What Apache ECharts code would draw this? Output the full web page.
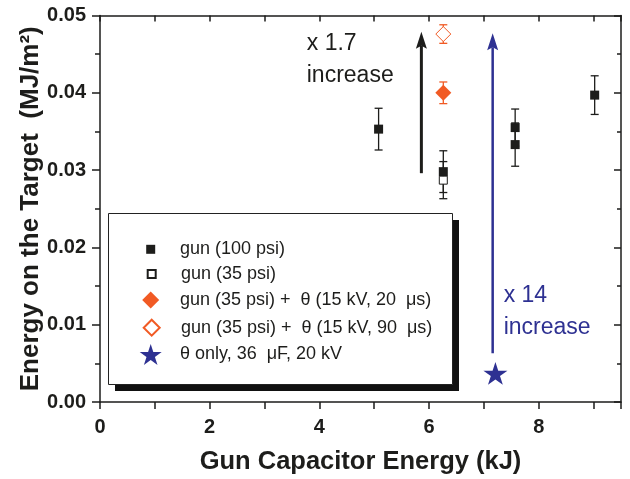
<!DOCTYPE html>
<html>
<head>
<meta charset="utf-8">
<script src="https://cdn.jsdelivr.net/npm/echarts@6/dist/echarts.min.js"></script>
<style>
  html, body { margin: 0; padding: 0; background: #fff; }
  #chart { width: 630px; height: 479px; }
</style>
</head>
<body>
<div id="chart"></div>
<script>
// gun only, 100 psi
const gun100X = [5.08, 6.26, 7.57, 7.57, 9.02];
const gun100Y = [0.0353, 0.0298, 0.0355, 0.0333, 0.0397];
const gun100Err = [0.0027, 0.0027, 0.0024, 0.0028, 0.0025];
// gun only, 35 psi
const gun35X = [6.26];
const gun35Y = [0.0287];
const gun35Err = [0.0024];
// gun (35 psi) + theta pinch
const theta20X = [6.26];
const theta20Y = [0.0400];
const theta20Err = [0.0014];
const theta90X = [6.26];
const theta90Y = [0.0476];
const theta90Err = [0.0012];
// theta pinch alone
const thetaOnlyX = [7.21];
const thetaOnlyY = [0.0037];

// arrows + notes
const arrowX = [5.86, 7.16];
const arrowFrom = [0.0296, 0.0063];
const arrowTo = [0.0479, 0.0477];
const noteX = [3.77, 7.36];
const noteY = [0.0443, 0.0117];
const noteText = ['x 1.7\nincrease', 'x 14\nincrease'];

const names = [
  'gun (100 psi)',
  'gun (35 psi)',
  'gun (35 psi) +  \u03b8 (15 kV, 20  \u03bcs)',
  'gun (35 psi) +  \u03b8 (15 kV, 90  \u03bcs)',
  '\u03b8 only, 36  \u03bcF, 20 kV'
];

const xRange = [0, 9.5];
const xStep = 2;
const yRange = [0, 0.05];
const yStep = 0.01;

const FONT = 'Liberation Sans';
const BLACK = '#1d1d1b';
const ORANGE = '#f15a24';
const BLUE = '#2e3192';

function zip(xs, ys) { return xs.map((x, i) => [x, ys[i]]); }

function starPath() {
  let d = '';
  for (let i = 0; i < 10; i++) {
    const r = i % 2 ? 0.382 : 1;
    const a = Math.PI / 2 + i * Math.PI / 5;
    d += (i ? 'L' : 'M') + (r * Math.cos(a)).toFixed(3) + ',' + (-r * Math.sin(a)).toFixed(3);
  }
  return 'path://' + d + 'Z';
}
const STAR = starPath();

function errorBars(xs, ys, es, color) {
  return {
    type: 'custom', silent: true, z: 2,
    encode: { x: 0, y: 1 },
    data: xs.map((x, i) => [x, ys[i], es[i]]),
    renderItem: (params, api) => {
      const x = api.value(0), y = api.value(1), e = api.value(2);
      const hi = api.coord([x, y + e]);
      const lo = api.coord([x, y - e]);
      const w = 4;
      const st = { stroke: color, lineWidth: 1.3 };
      return {
        type: 'group', children: [
          { type: 'line', shape: { x1: hi[0], y1: hi[1], x2: lo[0], y2: lo[1] }, style: st },
          { type: 'line', shape: { x1: hi[0] - w, y1: hi[1], x2: hi[0] + w, y2: hi[1] }, style: st },
          { type: 'line', shape: { x1: lo[0] - w, y1: lo[1], x2: lo[0] + w, y2: lo[1] }, style: st }
        ]
      };
    }
  };
}

function arrow(i, color, width) {
  return {
    type: 'custom', silent: true, z: 3,
    encode: { x: 0, y: 1 },
    data: [[arrowX[i], arrowFrom[i], arrowTo[i]]],
    renderItem: (params, api) => {
      const a = api.coord([api.value(0), api.value(1)]);
      const b = api.coord([api.value(0), api.value(2)]);
      const hw = 5.5, hl = 17;
      return {
        type: 'group', children: [
          { type: 'line', shape: { x1: a[0], y1: a[1], x2: b[0], y2: b[1] + hl - 3 },
            style: { stroke: color, lineWidth: width } },
          { type: 'polygon',
            shape: { points: [[b[0], b[1]], [b[0] - hw, b[1] + hl], [b[0], b[1] + hl - 3], [b[0] + hw, b[1] + hl]] },
            style: { fill: color } }
        ]
      };
    }
  };
}

function note(i, color) {
  return {
    type: 'custom', silent: true, z: 3,
    encode: { x: 0, y: 1 },
    data: [[noteX[i], noteY[i]]],
    renderItem: (params, api) => {
      const c = api.coord([api.value(0), api.value(1)]);
      return {
        type: 'text', x: c[0], y: c[1],
        style: {
          text: noteText[i], fill: color, fontSize: 23, fontFamily: FONT,
          align: 'left', verticalAlign: 'middle', lineHeight: 31.5
        }
      };
    }
  };
}

// legend rows: one legend per entry so every icon keeps its own size
const legendRows = [249.3, 274, 300, 327.7, 355];
const legendSizes = [9, 8, 17, 16, 22];
const legends = names.map((n, i) => {
  const s = legendSizes[i];
  return {
    data: [n], selectedMode: false, padding: 0,
    left: 150.7 - s / 2,
    top: legendRows[i] - Math.max(s, 18) / 2,
    itemWidth: s, itemHeight: s,
    textStyle: { fontSize: 18, fontFamily: FONT, color: BLACK, padding: [0, 0, 0, 180 - (150.7 + s / 2 + 5)] }
  };
});

const axisLabelStyle = { fontSize: 20, fontWeight: 'bold', fontFamily: FONT, color: BLACK };
const lineStyle = { color: BLACK, width: 1.5 };

const option = {
  animation: false,
  grid: { left: 100, right: 9, top: 15.5, bottom: 77, containLabel: false, outerBoundsMode: 'none' },
  legend: legends,
  graphic: [
    { type: 'rect', left: 115, top: 220, z: 2, shape: { width: 344, height: 171 }, style: { fill: '#111' } },
    { type: 'rect', left: 108, top: 213, z: 3, shape: { width: 344, height: 171 },
      style: { fill: '#fff', stroke: '#222', lineWidth: 1 } }
  ],
  xAxis: [
    {
      type: 'value', position: 'bottom', min: xRange[0], max: xRange[1], interval: xStep,
      axisLine: { show: true, onZero: false, lineStyle },
      axisTick: { show: true, inside: false, length: 7, lineStyle },
      minorTick: { show: true, splitNumber: 2, length: 7, lineStyle },
      splitLine: { show: false },
      axisLabel: Object.assign({ margin: 15, showMaxLabel: false }, axisLabelStyle),
      name: 'Gun Capacitor Energy (kJ)', nameLocation: 'middle', nameGap: 47, nameMoveOverlap: false,
      nameTextStyle: { fontSize: 25.5, fontWeight: 'bold', fontFamily: FONT, color: BLACK }
    },
    {
      type: 'value', position: 'top', min: xRange[0], max: xRange[1], interval: 1,
      axisLine: { show: true, onZero: false, lineStyle },
      axisTick: { show: true, inside: true, length: 6, lineStyle },
      axisLabel: { show: false }, splitLine: { show: false }
    }
  ],
  yAxis: [
    {
      type: 'value', position: 'left', min: yRange[0], max: yRange[1], interval: yStep,
      axisLine: { show: true, onZero: false, lineStyle },
      axisTick: { show: true, inside: false, length: 8, lineStyle },
      minorTick: { show: true, splitNumber: 2, length: 5, lineStyle },
      splitLine: { show: false },
      axisLabel: Object.assign({ margin: 14, formatter: v => v.toFixed(2) }, axisLabelStyle),
      name: 'Energy on the Target  (MJ/m\u00b2)', nameLocation: 'middle', nameGap: 56, nameRotate: 90,
      nameMoveOverlap: false,
      nameTextStyle: { fontSize: 26, fontWeight: 'bold', fontFamily: FONT, color: BLACK }
    },
    {
      type: 'value', position: 'right', min: yRange[0], max: yRange[1], interval: yStep,
      axisLine: { show: true, onZero: false, lineStyle },
      axisTick: { show: true, inside: true, length: 7, lineStyle },
      minorTick: { show: true, splitNumber: 2, length: 4, lineStyle },
      axisLabel: { show: false }, splitLine: { show: false }
    }
  ],
  series: [
    errorBars(gun100X, gun100Y, gun100Err, BLACK),
    errorBars(gun35X, gun35Y, gun35Err, BLACK),
    errorBars(theta20X, theta20Y, theta20Err, ORANGE),
    errorBars(theta90X, theta90Y, theta90Err, ORANGE),
    arrow(0, BLACK, 3),
    arrow(1, BLUE, 2.5),
    note(0, BLACK),
    note(1, BLUE),
    { name: names[0], type: 'scatter', z: 5, symbol: 'rect', symbolSize: 9,
      itemStyle: { color: BLACK, opacity: 1 }, data: zip(gun100X, gun100Y) },
    { name: names[1], type: 'scatter', z: 5, symbol: 'rect', symbolSize: 8,
      itemStyle: { color: '#fff', borderColor: BLACK, borderWidth: 1, opacity: 1 }, data: zip(gun35X, gun35Y) },
    { name: names[2], type: 'scatter', z: 5, symbol: 'diamond', symbolSize: 16,
      itemStyle: { color: ORANGE, opacity: 1 }, data: zip(theta20X, theta20Y) },
    { name: names[3], type: 'scatter', z: 5, symbol: 'diamond', symbolSize: 15,
      itemStyle: { color: '#fff', borderColor: ORANGE, borderWidth: 1, opacity: 1 }, data: zip(theta90X, theta90Y) },
    { name: names[4], type: 'scatter', z: 5, symbol: STAR, symbolSize: 24, symbolKeepAspect: true,
      itemStyle: { color: BLUE, opacity: 1 }, data: zip(thetaOnlyX, thetaOnlyY) }
  ]
};

const chart = echarts.init(document.getElementById('chart'), null, { renderer: 'canvas' });
chart.setOption(option);
</script>
</body>
</html>
